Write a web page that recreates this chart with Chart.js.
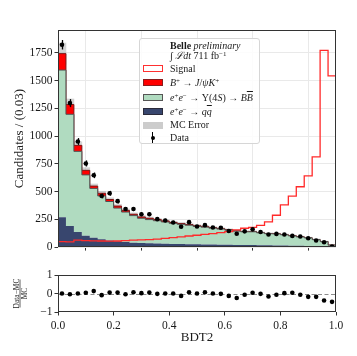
<!DOCTYPE html>
<html>
<head>
<meta charset="utf-8">
<script src="https://cdn.jsdelivr.net/npm/chart.js@4.4.1/dist/chart.umd.min.js"></script>
<style>
  html, body { margin: 0; padding: 0; background: #fff; }
  body { width: 357px; height: 356px; position: relative; overflow: hidden;
         font-family: "Liberation Serif", "DejaVu Serif", serif; color: #1a1a1a; }
  .pane { position: absolute; left: 0; width: 357px; }
  #legend { position: absolute; left: 139px; top: 38px; width: 121px; height: 106px; box-sizing: border-box;
            border: 1px solid #d6d6d6; border-radius: 3px; background: rgba(255,255,255,0.85); font-size: 10px; }
  #legend .ln { position: absolute; left: 30px; height: 12px; line-height: 12px; white-space: nowrap; }
  #legend .h { position: absolute; left: 3px; width: 20px; height: 7px; box-sizing: border-box; }
  sup { font-size: 7px; line-height: 0; vertical-align: 3px; }
  .ov { text-decoration: overline; }
</style>
</head>
<body>
<div class="pane" style="top:0;height:256px"><canvas id="mainChart"></canvas></div>
<div class="pane" style="top:260px;height:96px"><canvas id="ratioChart"></canvas></div>

<div id="legend">
  <div class="ln" style="top:1px"><b>Belle</b> <i>preliminary</i></div>
  <div class="ln" style="top:11px">∫ <i>ℒdt</i> 711 fb<sup>−1</sup></div>

  <span class="h" style="top:26px;background:#fff;border:1px solid #ff3030"></span>
  <div class="ln" style="top:24px">Signal</div>

  <span class="h" style="top:40px;background:#ff0000;border:1px solid #8a1c1c"></span>
  <div class="ln" style="top:38px"><i>B</i><sup>+</sup> → <i>J</i>/<i>ψK</i><sup>+</sup></div>

  <span class="h" style="top:55px;background:#b0dbc0;border:1px solid #555"></span>
  <div class="ln" style="top:53px"><i>e</i><sup>+</sup><i>e</i><sup>−</sup> → Υ(4<i>S</i>) → <i>B<span class="ov">B</span></i></div>

  <span class="h" style="top:69px;background:#38466e;border:1px solid #2a2a3a"></span>
  <div class="ln" style="top:67px"><i>e</i><sup>+</sup><i>e</i><sup>−</sup> → <i>q<span class="ov">q</span></i></div>

  <span class="h" style="top:83px;background:#cccccc"></span>
  <div class="ln" style="top:80px">MC Error</div>

  <span style="position:absolute;left:12px;top:93px;width:1px;height:11px;background:#000"></span>
  <span style="position:absolute;left:10.5px;top:96.5px;width:4px;height:4px;border-radius:50%;background:#000"></span>
  <div class="ln" style="top:93px">Data</div>
</div>

<script>
// binning: 35 bins over BDT2 in [0, 1]
const NBINS = 35;
const binEdges = Array.from({ length: NBINS + 1 }, (_, i) => i / NBINS);
const binCenters = binEdges.slice(0, NBINS).map(e => e + 0.5 / NBINS);

// stacked MC components
const qqBkg = [268, 190, 136, 102, 84, 70, 60, 52, 45, 40, 37, 34, 32, 30, 28, 27, 26, 25,
               24, 23, 22, 21, 20, 19, 18, 17, 16, 15, 14, 13, 12, 10, 8, 6, 3];
const bbBkg = [1328, 1007, 727, 549, 445, 391, 351, 300, 271, 244, 223, 214, 206, 197, 186, 178, 171, 162,
               156, 148, 141, 132, 124, 119, 120, 112, 105, 104, 97, 88, 80, 73.5, 59.5, 43.7, 14.8];
const jpsiK = [148, 88, 54, 41, 21, 24, 18, 18, 15, 12, 12, 12, 10, 9, 8, 7, 6, 5,
               4, 4, 3, 3, 2, 2, 2, 1, 1, 1, 1, 1, 1, 0.5, 0.5, 0.3, 0.2];
const mcErr = [95, 50, 32, 24, 19, 17, 15, 14, 13, 12, 12, 11, 11, 10, 10, 10, 9, 9,
               9, 8, 8, 8, 7, 7, 7, 7, 6, 6, 6, 6, 5, 5, 5, 4, 3];

// signal shape (unstacked step line)
const signal = [50, 48, 62, 58, 56, 55, 54, 55, 58, 62, 65, 68, 72, 78, 85, 93, 100, 107,
                115, 122, 130, 140, 155, 170, 178, 195, 228, 287, 381, 460, 544, 642, 813, 1773, 1543];

// data
const dataCounts = [1824, 1298, 952, 754, 647, 461, 485, 414, 343, 343, 296, 296, 252, 240, 222, 184, 225, 186,
                    198, 177, 175, 145, 121, 142, 160, 136, 113, 119, 113, 101, 95, 80, 59, 44, 6];
const dataErr = [42.7, 36, 30.9, 27.5, 25.4, 21.5, 22, 20.3, 18.5, 18.5, 17.2, 17.2, 15.9, 15.5, 14.9, 13.6, 15, 13.6,
                 14.1, 13.3, 13.2, 12, 11, 11.9, 12.6, 11.7, 10.6, 10.9, 10.6, 10, 9.7, 8.9, 7.7, 6.6, 2.4];

// (Data - MC) / MC
const ratio = [0, -0.04, 0, 0.04, 0.13, -0.09, 0.05, 0.05, -0.04, 0.07, 0.02, 0.05, -0.02, 0, 0, -0.13, 0.07, 0,
               0.07, 0, -0.02, -0.13, -0.24, -0.07, 0.04, -0.02, -0.16, -0.07, 0.02, 0.04, -0.07, -0.18, -0.18, -0.38, -0.45];

const xTicks = [0, 0.2, 0.4, 0.6, 0.8, 1.0];
const yTicksMain = [0, 250, 500, 750, 1000, 1250, 1500, 1750];
const yTicksRatio = [-1, 0, 1];

const COLORS = {
  navy: '#38466e',
  green: '#b0dbc0',
  greenEdge: '#505050',
  red: '#ff0000',
  redEdge: '#7d1616',
  signal: '#ff2a2a',
  band: 'rgba(150,150,150,0.42)',
  grid: '#e9e9e9',
  axis: '#333333',
  text: '#1a1a1a',
};
const FONT = '"Liberation Serif", "DejaVu Serif", serif';

const mcTotal = qqBkg.map((v, i) => v + bbBkg[i] + jpsiK[i]);

function steps(vals) {
  const pts = vals.map((v, i) => ({ x: binEdges[i], y: v }));
  pts.push({ x: 1, y: vals[vals.length - 1] });
  return pts;
}

function stepLine(label, vals, extra) {
  return { type: 'line', label, data: steps(vals), stepped: 'before', pointRadius: 0,
           borderWidth: 1, tension: 0, ...extra };
}

const frame = {
  id: 'frame',
  afterDraw(chart) {
    const { ctx, chartArea: a } = chart;
    ctx.save();
    ctx.strokeStyle = COLORS.axis;
    ctx.lineWidth = 1;
    ctx.strokeRect(Math.round(a.left) + 0.5, Math.round(a.top) + 0.5,
                   Math.round(a.right - a.left) - 1, Math.round(a.bottom - a.top) - 1);
    ctx.restore();
  },
};

const errorBars = {
  id: 'errorBars',
  afterDatasetsDraw(chart) {
    const { ctx, scales: { x, y } } = chart;
    ctx.save();
    ctx.strokeStyle = '#000';
    ctx.lineWidth = 1.3;
    dataCounts.forEach((d, i) => {
      const px = Math.round(x.getPixelForValue(binCenters[i])) + 0.5;
      ctx.beginPath();
      ctx.moveTo(px, y.getPixelForValue(d - dataErr[i]));
      ctx.lineTo(px, y.getPixelForValue(d + dataErr[i]));
      ctx.stroke();
    });
    ctx.restore();
  },
};

const zeroLine = {
  id: 'zeroLine',
  beforeDatasetsDraw(chart) {
    const { ctx, chartArea: a, scales: { y } } = chart;
    const py = Math.round(y.getPixelForValue(0)) + 0.5;
    ctx.save();
    ctx.strokeStyle = '#8c8c8c';
    ctx.lineWidth = 1;
    ctx.setLineDash([4, 2.5]);
    ctx.beginPath();
    ctx.moveTo(a.left, py);
    ctx.lineTo(a.right, py);
    ctx.stroke();
    ctx.restore();
  },
};

// rotated "Data-MC over MC" label of the lower pad
const fracLabel = {
  id: 'fracLabel',
  afterDraw(chart) {
    const { ctx, chartArea: a } = chart;
    const cy = (a.top + a.bottom) / 2;
    ctx.save();
    ctx.translate(20, cy);
    ctx.rotate(-Math.PI / 2);
    ctx.fillStyle = COLORS.text;
    ctx.font = `7.5px ${FONT}`;
    ctx.textAlign = 'center';
    ctx.textBaseline = 'alphabetic';
    ctx.fillText('Data−MC', 0, -1.5);
    ctx.textBaseline = 'top';
    ctx.fillText('MC', 0, 1.5);
    ctx.strokeStyle = COLORS.text;
    ctx.lineWidth = 0.7;
    ctx.beginPath();
    ctx.moveTo(-14, 0);
    ctx.lineTo(14, 0);
    ctx.stroke();
    ctx.restore();
  },
};

const tickFont = { family: FONT, size: 11.5 };
const titleFont = { family: FONT, size: 13 };

function xAxis(showLabels, height, extra) {
  return {
    type: 'linear', min: 0, max: 1, offset: false,
    afterBuildTicks: s => { s.ticks = xTicks.map(v => ({ value: v })); },
    afterFit: s => { s.height = height; },
    border: { display: false },
    ticks: { display: showLabels, font: tickFont, color: COLORS.text, padding: 3.5, maxRotation: 0,
             callback: v => v.toFixed(1) },
    ...extra,
  };
}

// stack order follows "order": qq at the bottom, then BB, then J/psi K on top
new Chart(document.getElementById('mainChart'), {
  type: 'line',
  data: {
    datasets: [
      stepLine('e+e- -> qq', qqBkg, { stack: 'mc', fill: 'origin', backgroundColor: COLORS.navy,
                                      borderColor: COLORS.navy, borderWidth: 0, order: 2 }),
      stepLine('e+e- -> Y(4S) -> BB', bbBkg, { stack: 'mc', fill: '-1', backgroundColor: COLORS.green,
                                               borderColor: COLORS.greenEdge, order: 3 }),
      stepLine('B+ -> J/psi K+', jpsiK, { stack: 'mc', fill: '-1', backgroundColor: COLORS.red,
                                          borderColor: COLORS.redEdge, order: 4 }),
      {
        type: 'bar', label: 'MC Error', stack: 'err', order: 6,
        data: binCenters.map((x, i) => ({ x, y: [mcTotal[i] - mcErr[i], mcTotal[i] + mcErr[i]] })),
        backgroundColor: COLORS.band, borderWidth: 0, barPercentage: 1, categoryPercentage: 1,
      },
      {
        type: 'line', label: 'Signal', stack: 'sig', order: 1, fill: false,
        data: [{ x: 0, y: 0 }, ...steps(signal), { x: 1, y: 0 }],
        stepped: 'before', pointRadius: 0, borderWidth: 1.3, borderColor: COLORS.signal,
      },
      {
        type: 'line', label: 'Data', stack: 'data', order: 0, showLine: false,
        data: binCenters.map((x, i) => ({ x, y: dataCounts[i] })),
        pointRadius: 2.3, pointBackgroundColor: '#000', pointBorderWidth: 0,
      },
    ],
  },
  options: {
    responsive: true,
    maintainAspectRatio: false,
    animation: false,
    devicePixelRatio: 1,
    layout: { padding: { top: 30, right: 21, left: 0, bottom: 0 } },
    plugins: { legend: { display: false }, tooltip: { enabled: false } },
    scales: {
      x: xAxis(false, 5, {
        grid: { color: COLORS.grid, tickColor: COLORS.axis, tickLength: 3.5 },
      }),
      y: {
        type: 'linear', min: 0, max: 1957, stacked: true,
        afterBuildTicks: s => { s.ticks = yTicksMain.map(v => ({ value: v })); },
        afterFit: s => { s.width = 58; },
        border: { display: false },
        grid: { color: COLORS.grid, tickColor: COLORS.axis, tickLength: 3.5 },
        ticks: { font: tickFont, color: COLORS.text, padding: 2, callback: v => String(v) },
        title: { display: true, text: 'Candidates / (0.03)', font: titleFont, color: COLORS.text,
                 padding: { top: 12, bottom: 0 } },
      },
    },
  },
  plugins: [errorBars, frame],
});

new Chart(document.getElementById('ratioChart'), {
  type: 'line',
  data: {
    datasets: [{
      label: '(Data-MC)/MC', showLine: false,
      data: binCenters.map((x, i) => ({ x, y: ratio[i] })),
      pointRadius: 2.3, pointBackgroundColor: '#000', pointBorderWidth: 0,
    }],
  },
  options: {
    responsive: true,
    maintainAspectRatio: false,
    animation: false,
    devicePixelRatio: 1,
    layout: { padding: { top: 15, right: 21, left: 0, bottom: 0 } },
    plugins: { legend: { display: false }, tooltip: { enabled: false } },
    scales: {
      x: xAxis(true, 44, {
        grid: { drawOnChartArea: false, color: COLORS.axis, tickColor: COLORS.axis, tickLength: 3.5 },
        title: { display: true, text: 'BDT2', font: titleFont, color: COLORS.text,
                 padding: { top: 0, bottom: 10.5 } },
      }),
      y: {
        type: 'linear', min: -1, max: 1,
        afterBuildTicks: s => { s.ticks = yTicksRatio.map(v => ({ value: v })); },
        afterFit: s => { s.width = 58; },
        border: { display: false },
        grid: { drawOnChartArea: false, color: COLORS.axis, tickColor: COLORS.axis, tickLength: 3.5 },
        ticks: { font: tickFont, color: COLORS.text, padding: 2,
                 callback: v => String(v).replace('-', '−') },
      },
    },
  },
  plugins: [zeroLine, fracLabel, frame],
});
</script>
</body>
</html>
